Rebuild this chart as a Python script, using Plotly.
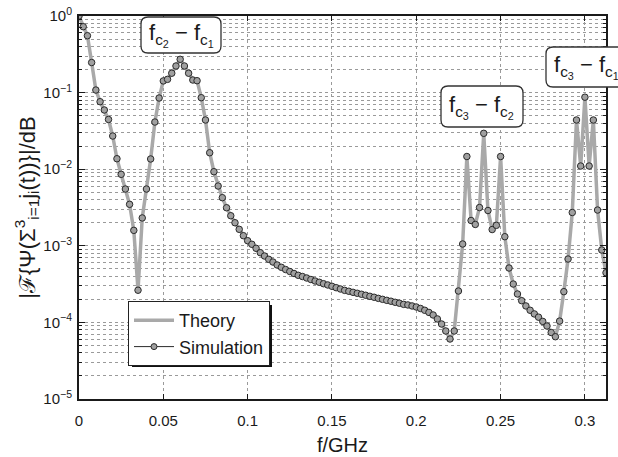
import plotly.graph_objects as go

# ---------------- data ----------------
freq_ghz = [
    0.0, 0.0025, 0.005, 0.0075, 0.01, 0.0125, 0.015, 0.0175, 0.02, 0.0225,
    0.025, 0.0275, 0.03, 0.0325, 0.035, 0.0375, 0.04, 0.0425, 0.045, 0.0475,
    0.05, 0.0525, 0.055, 0.0575, 0.06, 0.0625, 0.065, 0.0675, 0.07, 0.0725,
    0.075, 0.0775, 0.08, 0.0825, 0.085, 0.0875, 0.09, 0.0925, 0.095, 0.0975,
    0.1, 0.1025, 0.105, 0.1075, 0.11, 0.1125, 0.115, 0.1175, 0.12, 0.1225,
    0.125, 0.1275, 0.13, 0.1325, 0.135, 0.1375, 0.14, 0.1425, 0.145, 0.1475,
    0.15, 0.1525, 0.155, 0.1575, 0.16, 0.1625, 0.165, 0.1675, 0.17, 0.1725,
    0.175, 0.1775, 0.18, 0.1825, 0.185, 0.1875, 0.19, 0.1925, 0.195, 0.1975,
    0.2, 0.2025, 0.205, 0.2075, 0.21, 0.2125, 0.215, 0.2175, 0.22, 0.2225,
    0.225, 0.2275, 0.23, 0.2325, 0.235, 0.2375, 0.24, 0.2425, 0.245, 0.2475,
    0.25, 0.2525, 0.255, 0.2575, 0.26, 0.2625, 0.265, 0.2675, 0.27, 0.2725,
    0.275, 0.2775, 0.28, 0.2825, 0.285, 0.2875, 0.29, 0.2925, 0.295, 0.2975,
    0.3, 0.3025, 0.305, 0.3075, 0.31, 0.3125,
]

theory = [
    1.0, 0.725, 0.553, 0.247, 0.108, 0.0761, 0.0593, 0.0446, 0.0271, 0.0137,
    0.00857, 0.00551, 0.00348, 0.00159, 0.000263, 0.00231, 0.00551, 0.0136, 0.0413, 0.085,
    0.142, 0.149, 0.179, 0.2225, 0.272, 0.2225, 0.179, 0.146, 0.143, 0.0858,
    0.0439, 0.0164, 0.00928, 0.00603, 0.00425, 0.00314, 0.00247, 0.002, 0.00164, 0.001355,
    0.001166, 0.001046, 0.000928, 0.000813, 0.000736, 0.000666, 0.000614, 0.000562, 0.000524, 0.00049,
    0.000462, 0.000435, 0.000412, 0.000397, 0.00038, 0.000363, 0.000347, 0.000334, 0.00032, 0.000308,
    0.000296, 0.000284, 0.000273, 0.000262, 0.000255, 0.000247, 0.00024, 0.000233, 0.000226, 0.000219,
    0.000213, 0.000206, 0.0002, 0.000194, 0.000189, 0.000183, 0.000178, 0.000172, 0.000169, 0.000164,
    0.000159, 0.000152, 0.000144, 0.000135, 0.000125, 0.000111, 0.0000953, 0.0000772, 0.0000607, 0.0000772,
    0.000257, 0.001056, 0.01465, 0.00214, 0.0019, 0.00316, 0.0294, 0.00289, 0.00163, 0.00185,
    0.01465, 0.001315, 0.000513, 0.000317, 0.000235, 0.000192, 0.000164, 0.000144, 0.000129, 0.000117,
    0.000103, 0.0000897, 0.0000738, 0.000065, 0.000104, 0.000252, 0.000672, 0.00272, 0.0439, 0.011,
    0.0871, 0.011, 0.0439, 0.00293, 0.000881, 0.000445,
]
simulation = list(theory)

x_tick_vals = [0, 0.05, 0.1, 0.15, 0.2, 0.25, 0.3]
x_tick_text = ["0", "0.05", "0.1", "0.15", "0.2", "0.25", "0.3"]
y_tick_vals = [1e-5, 1e-4, 1e-3, 1e-2, 1e-1, 1]
y_tick_text = ["10<sup>\u22125</sup>", "10<sup>\u22124</sup>", "10<sup>\u22123</sup>",
               "10<sup>\u22122</sup>", "10<sup>\u22121</sup>", "10<sup>0</sup>"]

labels = [
    "f<sub>c<sub>2</sub></sub> \u2212 f<sub>c<sub>1</sub></sub>",
    "f<sub>c<sub>3</sub></sub> \u2212 f<sub>c<sub>2</sub></sub>",
    "f<sub>c<sub>3</sub></sub> \u2212 f<sub>c<sub>1</sub></sub>",
]

# ---------------- geometry helpers (layout only) ----------------
W, H = 618, 457
ML, MR, MT, MB = 79, 12, 16, 58
PW, PH = W - ML - MR, H - MT - MB


def px(x):
    return (x - ML) / PW


def py(y):
    return (H - MB - y) / PH


def rounded_path(x0, y0, x1, y1, r):
    rx, ry = r / PW, r / PH
    X0, X1 = px(x0), px(x1)
    Y0, Y1 = py(y0), py(y1)  # Y0 top (larger), Y1 bottom
    return (f"M {X0+rx},{Y0} L {X1-rx},{Y0} Q {X1},{Y0} {X1},{Y0-ry} "
            f"L {X1},{Y1+ry} Q {X1},{Y1} {X1-rx},{Y1} "
            f"L {X0+rx},{Y1} Q {X0},{Y1} {X0},{Y1+ry} "
            f"L {X0},{Y0-ry} Q {X0},{Y0} {X0+rx},{Y0} Z")


FONT = "Liberation Sans, Arial, Helvetica, sans-serif"
INK = "#1a1a1a"
GRID = "#9a9a9a"

fig = go.Figure()
fig.add_trace(go.Scatter(
    x=freq_ghz, y=theory, mode="lines", name="Theory",
    line=dict(color="#a9a9a9", width=3.5),
))
fig.add_trace(go.Scatter(
    x=freq_ghz, y=simulation, mode="markers", name="Simulation", showlegend=False,
    marker=dict(symbol="circle", size=6.5, color="#a0a0a0", line=dict(color="#2a2a2a", width=1)),
))
# legend entry for the simulation (line + marker symbol)
fig.add_trace(go.Scatter(
    x=[None], y=[None], mode="lines+markers", name="Simulation",
    line=dict(color="#2a2a2a", width=1),
    marker=dict(symbol="circle", size=6, color="#a0a0a0", line=dict(color="#2a2a2a", width=1)),
))

boxes = [(141, 17, 221, 53), (441, 86, 523, 127), (546, 47, 628, 87)]
shapes = []
annotations = []
for (x0, y0, x1, y1), txt in zip(boxes, labels):
    shapes.append(dict(type="path", path=rounded_path(x0, y0, x1, y1, 7),
                       xref="paper", yref="paper", line=dict(color="#333", width=1.3),
                       fillcolor="white", layer="above"))
    annotations.append(dict(x=px(x0 + 6), y=py((y0 + y1) / 2), xref="paper", yref="paper",
                            xanchor="left", yanchor="middle", showarrow=False,
                            text=txt, font=dict(family=FONT, size=22, color=INK)))

# legend shadow
shapes.append(dict(type="rect", xref="paper", yref="paper",
                   x0=px(132), x1=px(272), y0=py(367), y1=py(305),
                   fillcolor="#111", line=dict(width=0), layer="above"))

fig.update_layout(
    width=W, height=H,
    margin=dict(l=ML, r=MR, t=MT, b=MB),
    plot_bgcolor="white", paper_bgcolor="white",
    font=dict(family=FONT, size=15, color=INK),
    showlegend=True,
    legend=dict(x=px(128), y=py(301), xanchor="left", yanchor="top",
                bgcolor="white", bordercolor="#222", borderwidth=1,
                font=dict(family=FONT, size=18, color=INK), itemwidth=40,
                tracegroupgap=0),
    shapes=shapes,
    annotations=annotations,
    xaxis=dict(
        range=[0, 0.3125], tickmode="array", tickvals=x_tick_vals, ticktext=x_tick_text,
        ticks="inside", ticklen=5, tickcolor=INK, showline=True, linewidth=2, linecolor=INK,
        mirror="ticks", showgrid=True, gridcolor=GRID, griddash="dot", gridwidth=1,
        zeroline=False, ticklabelstandoff=7, automargin=False,
        title=dict(text="f/GHz", font=dict(family=FONT, size=20, color=INK), standoff=10),
    ),
    yaxis=dict(
        type="log", range=[-5, 0], tickmode="array", tickvals=y_tick_vals, ticktext=y_tick_text,
        ticks="inside", ticklen=6, tickcolor=INK, showline=True, linewidth=2, linecolor=INK,
        mirror="ticks", showgrid=True, gridcolor=GRID, griddash="dot", gridwidth=1,
        zeroline=False, ticklabelstandoff=2, automargin=False,
        minor=dict(ticks="inside", ticklen=3, tickcolor=INK, showgrid=True, dtick="D1",
                   gridcolor=GRID, griddash="dot", gridwidth=1),
        title=dict(text="|\u2131{\u03a8(\u03a3<sup>3</sup><sub>i=1</sub>j<sub>i</sub>(t))}|/dB",
                   font=dict(family=FONT, size=22, color=INK), standoff=2),
    ),
)

fig.write_html("out.html")
